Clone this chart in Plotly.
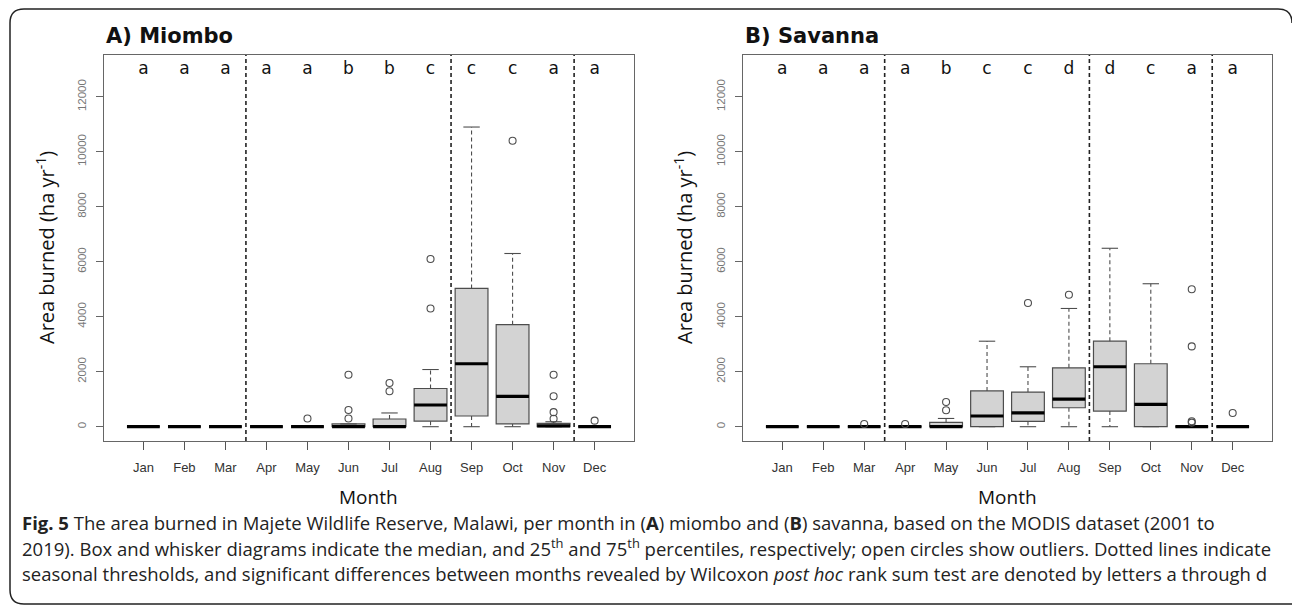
import plotly.graph_objects as go

W, H = 1292, 605

months = ["Jan", "Feb", "Mar", "Apr", "May", "Jun", "Jul", "Aug", "Sep", "Oct", "Nov", "Dec"]
season_breaks = [3.5, 8.5, 11.5]
y_ticks = [0, 2000, 4000, 6000, 8000, 10000, 12000]
y_ticktext = ["0", "2000", "4000", "6000", "8000", "10000", "12000"]

# ---- A) Miombo ----
mio_letters = ["a", "a", "a", "a", "a", "b", "b", "c", "c", "c", "a", "a"]
mio_q1 = [0, 0, 0, 0, 0, 0, 0, 200, 390, 100, 0, 0]
mio_med = [0, 0, 0, 0, 0, 0, 0, 790, 2290, 1100, 30, 0]
mio_q3 = [0, 0, 0, 0, 0, 100, 280, 1390, 5030, 3710, 120, 0]
mio_lo = [0, 0, 0, 0, 0, 0, 0, 0, 0, 0, 0, 0]
mio_hi = [0, 0, 0, 0, 0, 100, 500, 2080, 10900, 6300, 180, 0]
mio_out = [[], [], [], [], [300], [300, 610, 1890], [1290, 1590], [4300, 6100],
           [], [10400], [290, 530, 1110, 1890], [220]]

# ---- B) Savanna ----
sav_letters = ["a", "a", "a", "a", "b", "c", "c", "d", "d", "c", "a", "a"]
sav_q1 = [0, 0, 0, 0, 0, 0, 195, 690, 570, 0, 0, 0]
sav_med = [0, 0, 0, 0, 0, 390, 500, 1000, 2180, 810, 0, 0]
sav_q3 = [0, 0, 0, 0, 160, 1300, 1260, 2140, 3110, 2290, 0, 0]
sav_lo = [0, 0, 0, 0, 0, 0, 0, 0, 0, 0, 0, 0]
sav_hi = [0, 0, 0, 0, 300, 3110, 2180, 4300, 6490, 5200, 0, 0]
sav_out = [[], [], [100], [100], [600, 900], [], [4500], [4800],
           [], [], [150, 200, 2920, 5000], [500]]

panels = [
    ("A) Miombo", mio_letters, mio_q1, mio_med, mio_q3, mio_lo, mio_hi, mio_out),
    ("B) Savanna", sav_letters, sav_q1, sav_med, sav_q3, sav_lo, sav_hi, sav_out),
]

BOX_W = 0.8
CAP_HW = 0.2
EDGE = "#4d4d4d"
Y_RANGE = [-520, 13520]


def px_x(p):
    return p / W


def px_y(p):
    return 1 - p / H


fig = go.Figure()
pos = list(range(1, 13))

for k, (title, letters, q1, med, q3, lo, hi, outs) in enumerate(panels):
    xa = "x" if k == 0 else "x2"
    ya = "y" if k == 0 else "y2"
    # boxes
    fig.add_trace(go.Box(
        x=pos, q1=q1, median=med, q3=q3, lowerfence=q1, upperfence=q3,
        width=BOX_W, fillcolor="#d3d3d3", line=dict(color=EDGE, width=1.2),
        boxpoints=False, showlegend=False, hoverinfo="skip", xaxis=xa, yaxis=ya,
    ))
    # dashed whiskers + solid caps
    wx, wy = [], []
    cx, cy = [], []
    for i, p in enumerate(pos):
        if hi[i] > q3[i]:
            wx += [p, p, None]
            wy += [q3[i], hi[i], None]
        if lo[i] < q1[i]:
            wx += [p, p, None]
            wy += [q1[i], lo[i], None]
        cx += [p - CAP_HW, p + CAP_HW, None, p - CAP_HW, p + CAP_HW, None]
        cy += [hi[i], hi[i], None, lo[i], lo[i], None]
    fig.add_trace(go.Scatter(x=wx, y=wy, mode="lines", xaxis=xa, yaxis=ya,
                             line=dict(color=EDGE, width=1.1, dash="4px,3px"),
                             showlegend=False, hoverinfo="skip"))
    fig.add_trace(go.Scatter(x=cx, y=cy, mode="lines", xaxis=xa, yaxis=ya,
                             line=dict(color=EDGE, width=1.1),
                             showlegend=False, hoverinfo="skip"))
    # thick medians
    mx, my = [], []
    for i, p in enumerate(pos):
        mx += [p - BOX_W / 2, p + BOX_W / 2, None]
        my += [med[i], med[i], None]
    fig.add_trace(go.Scatter(x=mx, y=my, mode="lines", xaxis=xa, yaxis=ya,
                             line=dict(color="black", width=3.2),
                             showlegend=False, hoverinfo="skip"))
    # outliers
    ox, oy = [], []
    for i, p in enumerate(pos):
        for v in outs[i]:
            ox.append(p)
            oy.append(v)
    fig.add_trace(go.Scatter(x=ox, y=oy, mode="markers", xaxis=xa, yaxis=ya,
                             marker=dict(symbol="circle-open", size=7,
                                         color=EDGE, line=dict(width=1.1)),
                             showlegend=False, hoverinfo="skip"))
    # season separators
    sx, sy = [], []
    for b in season_breaks:
        sx += [b, b, None]
        sy += [Y_RANGE[0], Y_RANGE[1], None]
    fig.add_trace(go.Scatter(x=sx, y=sy, mode="lines", xaxis=xa, yaxis=ya,
                             line=dict(color="#222222", width=1.6, dash="4px,3px"),
                             showlegend=False, hoverinfo="skip"))
    # significance letters
    fig.add_trace(go.Scatter(x=pos, y=[13000] * 12, mode="text", text=letters,
                             textposition="middle center", xaxis=xa, yaxis=ya,
                             textfont=dict(family="DejaVu Sans", size=17, color="#111111"),
                             showlegend=False, hoverinfo="skip"))

left_dom = [px_x(104), px_x(634)]
right_dom = [px_x(743), px_x(1272)]
ydom = [px_y(441), px_y(55)]

xcommon = dict(range=[0.04, 12.96], tickmode="array", tickvals=pos, ticktext=months,
               ticks="outside", ticklen=8, tickcolor="#555555", tickwidth=1,
               ticklabelstandoff=6,
               showline=True, linecolor="#666666", linewidth=1.2, mirror=True,
               showgrid=False, zeroline=False, automargin=False,
               tickfont=dict(family="Liberation Sans", size=13, color="#333333"))
ycommon = dict(range=Y_RANGE, tickmode="array", tickvals=y_ticks, ticktext=y_ticktext,
               ticks="outside", ticklen=7, tickcolor="#666666", tickwidth=1,
               ticklabelstandoff=5,
               tickangle=-90, showline=True, linecolor="#666666", linewidth=1.2,
               mirror=True, showgrid=False, zeroline=False, automargin=False,
               tickfont=dict(family="Liberation Sans", size=11.5, color="#777777"))

fig.update_layout(
    width=W, height=H, margin=dict(l=0, r=0, t=0, b=0),
    paper_bgcolor="white", plot_bgcolor="white", showlegend=False,
    xaxis=dict(domain=left_dom, anchor="y", **xcommon),
    yaxis=dict(domain=ydom, anchor="x", **ycommon),
    xaxis2=dict(domain=right_dom, anchor="y2", **xcommon),
    yaxis2=dict(domain=ydom, anchor="x2", **ycommon),
)

ann = []
for title, xl, yl_x in [("A) Miombo", 104, 45), ("B) Savanna", 743, 683)]:
    ann.append(dict(text="<b>%s</b>" % title, x=px_x(xl), y=px_y(50), xref="paper", yref="paper",
                    xanchor="left", yanchor="bottom", showarrow=False,
                    font=dict(family="DejaVu Sans", size=21, color="#111111")))
    ann.append(dict(text="Area burned (ha yr<sup>-1</sup>)", x=px_x(yl_x), y=px_y(248),
                    xref="paper", yref="paper", xanchor="center", yanchor="middle",
                    textangle=-90, showarrow=False,
                    font=dict(family="Open Sans", size=20, color="#111111")))
    cxm = (xl + xl + 529) / 2
    ann.append(dict(text="Month", x=px_x(cxm), y=px_y(497), xref="paper", yref="paper",
                    xanchor="center", yanchor="middle", showarrow=False,
                    font=dict(family="Open Sans", size=19, color="#111111")))

caption = [
    "<b>Fig. 5</b> The area burned in Majete Wildlife Reserve, Malawi, per month in (<b>A</b>) miombo and (<b>B</b>) savanna, based on the MODIS dataset (2001 to",
    "2019). Box and whisker diagrams indicate the median, and 25<sup>th</sup> and 75<sup>th</sup> percentiles, respectively; open circles show outliers. Dotted lines indicate",
    "seasonal thresholds, and significant differences between months revealed by Wilcoxon <i>post hoc</i> rank sum test are denoted by letters a through d",
]
for i, line in enumerate(caption):
    ann.append(dict(text=line, x=px_x(20), y=px_y(522 + 25.5 * i), xref="paper", yref="paper",
                    xanchor="left", yanchor="middle", showarrow=False,
                    font=dict(family="Open Sans", size=18.5, color="#222222")))
fig.update_layout(annotations=ann)

# open rounded frame: bottom edge, left side, top edge and the top-right corner
r = 14
xl0, yt, xr, yb = 10, 9, 1292, 604
pts = [
    ("M", [(xr, yb)]),
    ("L", [(xl0 + r, yb)]),
    ("Q", [(xl0, yb), (xl0, yb - r)]),
    ("L", [(xl0, yt + r)]),
    ("Q", [(xl0, yt), (xl0 + r, yt)]),
    ("L", [(xr - r, yt)]),
    ("Q", [(xr, yt), (xr, yt + r)]),
]
path = " ".join(cmd + " " + " ".join("%.5f,%.5f" % (px_x(a), px_y(b)) for a, b in p)
                for cmd, p in pts)
fig.add_shape(type="path", path=path, xref="paper", yref="paper",
              line=dict(color="#222222", width=1.5), fillcolor="rgba(0,0,0,0)", layer="above")

# remove the default page margin so the figure sits at the window origin
fig.write_html("out.html", config={"displayModeBar": False},
               post_script="document.body.style.margin='0';document.body.style.overflow='hidden';")
